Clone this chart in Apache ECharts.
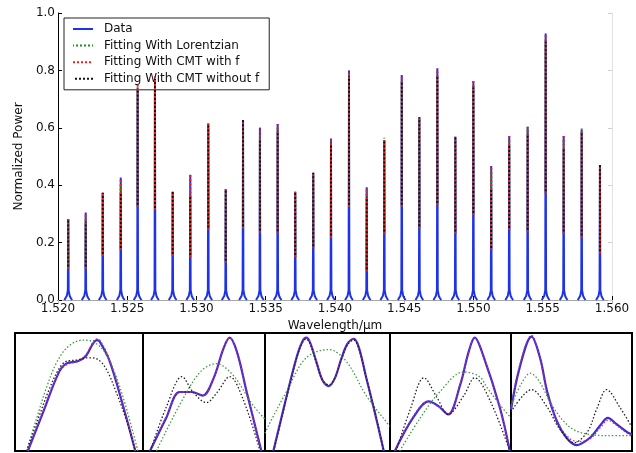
<!DOCTYPE html>
<html>
<head>
<meta charset="utf-8">
<script src="https://cdn.jsdelivr.net/npm/echarts@6/dist/echarts.min.js"></script>
<style>
html, body { margin: 0; padding: 0; background: #fff; }
#chart { width: 636px; height: 453px; }
</style>
</head>
<body>
<div id="chart"></div>
<script>
// ---- Transmission spectrum: one entry per resonance ----
const peakWavelengths = [1.52074, 1.52200, 1.52323, 1.52453, 1.52575, 1.52700, 1.52828, 1.52955,
  1.53085, 1.53211, 1.53336, 1.53458, 1.53586, 1.53713, 1.53843, 1.53971, 1.54101, 1.54229,
  1.54356, 1.54482, 1.54609, 1.54739, 1.54869, 1.54999, 1.55128, 1.55258, 1.55391, 1.55521,
  1.55651, 1.55781, 1.55913];
const dataPeaks = [0.282, 0.305, 0.374, 0.426, 0.75, 0.78, 0.377, 0.436, 0.615, 0.387, 0.627,
  0.600, 0.613, 0.377, 0.443, 0.563, 0.800, 0.393, 0.557, 0.784, 0.637, 0.807, 0.569, 0.763,
  0.467, 0.571, 0.604, 0.929, 0.571, 0.592, 0.470];
const lorentzPeaks = [0.28, 0.29, 0.37, 0.40, 0.74, 0.77, 0.37, 0.42, 0.60, 0.38, 0.61, 0.57,
  0.60, 0.37, 0.44, 0.55, 0.79, 0.38, 0.565, 0.77, 0.63, 0.79, 0.56, 0.75, 0.45, 0.56, 0.60,
  0.91, 0.56, 0.60, 0.46];
const cmtWithFPeaks = [0.282, 0.305, 0.374, 0.426, 0.75, 0.78, 0.377, 0.436, 0.615, 0.387, 0.627,
  0.600, 0.613, 0.377, 0.443, 0.563, 0.800, 0.393, 0.557, 0.784, 0.637, 0.807, 0.569, 0.763,
  0.467, 0.571, 0.604, 0.929, 0.571, 0.592, 0.470];
const cmtWithoutFPeaks = [0.282, 0.273, 0.374, 0.37, 0.74, 0.77, 0.377, 0.36, 0.615, 0.387, 0.627,
  0.555, 0.59, 0.377, 0.443, 0.54, 0.78, 0.36, 0.557, 0.76, 0.637, 0.78, 0.569, 0.74, 0.39,
  0.54, 0.58, 0.90, 0.53, 0.58, 0.47];
// lower edge of the fitting window around each resonance
const fitWindowLevels = [0.11, 0.11, 0.153, 0.174, 0.325, 0.314, 0.153, 0.15, 0.246, 0.13, 0.25,
  0.235, 0.233, 0.15, 0.18, 0.218, 0.325, 0.10, 0.232, 0.325, 0.25, 0.331, 0.232, 0.296, 0.174,
  0.244, 0.238, 0.372, 0.232, 0.218, 0.163];
// flared foot of a measured resonance: offset from centre (µm) and power level
const footOffsets = [0.00028, 0.00019, 0.0001, 0.000029];
const footLevels = [0, 0.006, 0.015, 0.034];

const xTickLabels = ['1.520', '1.525', '1.530', '1.535', '1.540', '1.545', '1.550', '1.555', '1.560'];
const yTickLabels = ['0.0', '0.2', '0.4', '0.6', '0.8', '1.0'];

// ---- Close-ups of individual resonances: [normalised x, normalised power] ----
const inset1Data = [[0.10,0],[0.22,0.33],[0.34,0.66],[0.40,0.74],[0.49,0.76],[0.55,0.80],[0.64,0.94],[0.66,0.93],[0.74,0.76],[0.85,0.36],[0.94,0]];
const inset1Lorentz = [[0.09,0],[0.17,0.28],[0.25,0.55],[0.33,0.76],[0.42,0.89],[0.53,0.94],[0.62,0.92],[0.70,0.84],[0.78,0.66],[0.86,0.40],[0.96,0]];
const inset1CmtF = [[0.10,0],[0.22,0.34],[0.34,0.66],[0.40,0.73],[0.49,0.76],[0.55,0.81],[0.64,0.95],[0.67,0.93],[0.74,0.77],[0.85,0.36],[0.94,0]];
const inset1CmtNoF = [[0.09,0],[0.18,0.27],[0.27,0.53],[0.34,0.69],[0.40,0.76],[0.48,0.77],[0.57,0.79],[0.64,0.78],[0.71,0.70],[0.79,0.50],[0.87,0.26],[0.94,0]];

const inset2Data = [[0.057,0],[0.19,0.28],[0.30,0.50],[0.40,0.50],[0.49,0.47],[0.58,0.62],[0.66,0.87],[0.71,0.96],[0.77,0.84],[0.85,0.50],[0.97,0]];
const inset2Lorentz = [[0.11,0],[0.30,0.39],[0.47,0.67],[0.60,0.74],[0.74,0.64],[0.90,0.39],[1.0,0.27]];
const inset2CmtF = [[0.057,0],[0.19,0.29],[0.30,0.50],[0.40,0.50],[0.49,0.47],[0.58,0.62],[0.66,0.87],[0.71,0.96],[0.77,0.84],[0.85,0.50],[0.97,0]];
const inset2CmtNoF = [[0.06,0],[0.19,0.37],[0.32,0.63],[0.41,0.50],[0.52,0.41],[0.61,0.50],[0.71,0.63],[0.82,0.44],[0.96,0]];

const inset3Data = [[0.067,0],[0.14,0.32],[0.20,0.58],[0.26,0.82],[0.30,0.93],[0.33,0.96],[0.36,0.92],[0.41,0.76],[0.46,0.60],[0.51,0.55],[0.56,0.62],[0.61,0.78],[0.66,0.91],[0.71,0.95],[0.75,0.88],[0.81,0.62],[0.88,0.32],[0.95,0]];
const inset3Lorentz = [[0,0.15],[0.03,0.22],[0.17,0.50],[0.33,0.79],[0.51,0.86],[0.65,0.76],[0.81,0.47],[0.99,0.22],[1.0,0.21]];
const inset3CmtF = [[0.067,0],[0.14,0.32],[0.20,0.58],[0.26,0.82],[0.30,0.93],[0.33,0.96],[0.36,0.92],[0.41,0.76],[0.46,0.60],[0.51,0.55],[0.56,0.62],[0.61,0.78],[0.66,0.91],[0.71,0.95],[0.75,0.88],[0.81,0.62],[0.88,0.32],[0.95,0]];
const inset3CmtNoF = [[0.07,0],[0.14,0.31],[0.20,0.57],[0.26,0.81],[0.30,0.92],[0.33,0.95],[0.36,0.91],[0.41,0.75],[0.46,0.60],[0.51,0.56],[0.56,0.62],[0.61,0.77],[0.66,0.90],[0.71,0.94],[0.75,0.87],[0.81,0.62],[0.88,0.33],[0.95,0]];

const inset4Data = [[0.04,0],[0.19,0.28],[0.32,0.42],[0.40,0.38],[0.48,0.31],[0.58,0.56],[0.65,0.84],[0.70,0.96],[0.77,0.81],[0.91,0.36],[0.99,0]];
const inset4Lorentz = [[0.08,0],[0.25,0.28],[0.41,0.50],[0.61,0.67],[0.74,0.63],[0.80,0.54],[0.91,0.39],[1.0,0.28]];
const inset4CmtF = [[0.04,0],[0.19,0.29],[0.32,0.42],[0.40,0.38],[0.48,0.31],[0.58,0.56],[0.65,0.84],[0.70,0.96],[0.77,0.81],[0.91,0.36],[0.99,0]];
const inset4CmtNoF = [[0.05,0],[0.17,0.36],[0.28,0.62],[0.39,0.45],[0.48,0.31],[0.61,0.47],[0.70,0.62],[0.83,0.42],[0.99,0]];

const inset5Data = [[0,0.35],[0.07,0.70],[0.17,0.97],[0.24,0.79],[0.30,0.50],[0.38,0.25],[0.46,0.11],[0.54,0.05],[0.65,0.11],[0.74,0.22],[0.80,0.28],[0.87,0.23],[0.96,0.16],[1.0,0.14]];
const inset5Lorentz = [[0,0.38],[0.08,0.56],[0.16,0.66],[0.24,0.58],[0.32,0.42],[0.42,0.27],[0.52,0.18],[0.65,0.14],[0.80,0.13],[1.0,0.13]];
const inset5CmtF = [[0,0.36],[0.07,0.72],[0.17,0.98],[0.24,0.78],[0.30,0.48],[0.38,0.26],[0.46,0.13],[0.55,0.08],[0.65,0.10],[0.74,0.20],[0.80,0.26],[0.87,0.22],[0.96,0.15],[1.0,0.13]];
const inset5CmtNoF = [[0,0.33],[0.17,0.52],[0.30,0.37],[0.40,0.19],[0.52,0.07],[0.63,0.16],[0.71,0.36],[0.79,0.52],[0.90,0.37],[1.0,0.20]];

// ---- Build polylines ----
const GAP = '-';
const measuredLine = [];
peakWavelengths.forEach((c, i) => {
  for (let k = 0; k < footOffsets.length; k++) measuredLine.push([c - footOffsets[k], footLevels[k]]);
  measuredLine.push([c, dataPeaks[i]]);
  for (let k = footOffsets.length - 1; k >= 0; k--) measuredLine.push([c + footOffsets[k], footLevels[k]]);
  measuredLine.push([c + 0.0004, GAP]);
});
function fitLine(tops) {
  const pts = [];
  peakWavelengths.forEach((c, i) => {
    pts.push([c, fitWindowLevels[i]], [c, tops[i]], [c + 0.0004, GAP]);
  });
  return pts;
}

const FONT = 'DejaVu Sans';
const BLUE = '#1f33e6';
const GREEN = '#1f8f1f';
const RED = '#f01c1c';
const BLACK = '#111111';
const NAMES = ['Data', 'Fitting With Lorentzian', 'Fitting With CMT with f', 'Fitting With CMT without f'];

const insetRects = [
  { left: 15, width: 128 },
  { left: 143, width: 122 },
  { left: 265, width: 125 },
  { left: 390, width: 121 },
  { left: 511, width: 121 }
];
const insetSets = [
  [inset1Data, inset1Lorentz, inset1CmtF, inset1CmtNoF],
  [inset2Data, inset2Lorentz, inset2CmtF, inset2CmtNoF],
  [inset3Data, inset3Lorentz, inset3CmtF, inset3CmtNoF],
  [inset4Data, inset4Lorentz, inset4CmtF, inset4CmtNoF],
  [inset5Data, inset5Lorentz, inset5CmtF, inset5CmtNoF]
];

const grids = [{ left: 58, top: 13, width: 554, height: 287, containLabel: false }];
const xAxes = [
  {
    gridIndex: 0, type: 'value', min: 1.52, max: 1.56, interval: 0.005,
    axisLine: { lineStyle: { color: '#000', width: 1 } },
    axisTick: { inside: true, length: 4, lineStyle: { color: '#000' } },
    axisLabel: { margin: 3, color: '#111', fontFamily: FONT, fontSize: 12,
      formatter: (v, idx) => xTickLabels[idx] },
    splitLine: { show: false },
    name: 'Wavelength/\u00b5m', nameLocation: 'middle', nameGap: 17,
    nameTextStyle: { color: '#111', fontFamily: FONT, fontSize: 12 }
  },
  {
    gridIndex: 0, type: 'value', position: 'top', min: 1.52, max: 1.56, interval: 0.005,
    axisLine: { lineStyle: { color: '#a8a8a8', width: 1 } },
    axisTick: { inside: true, length: 4, lineStyle: { color: '#bbb' } },
    axisLabel: { show: false }, splitLine: { show: false }
  }
];
const yAxes = [
  {
    gridIndex: 0, type: 'value', min: 0, max: 1, interval: 0.2,
    axisLine: { lineStyle: { color: '#000', width: 1 } },
    axisTick: { inside: true, length: 4, lineStyle: { color: '#000' } },
    axisLabel: { margin: 3, color: '#111', fontFamily: FONT, fontSize: 12,
      formatter: (v, idx) => yTickLabels[idx] },
    splitLine: { show: false },
    name: 'Normalized Power', nameLocation: 'middle', nameGap: 22,
    nameTextStyle: { color: '#111', fontFamily: FONT, fontSize: 12 }
  },
  {
    gridIndex: 0, type: 'value', position: 'right', min: 0, max: 1, interval: 0.2,
    axisLine: { lineStyle: { color: '#e2e2e2', width: 1 } },
    axisTick: { inside: true, length: 4, lineStyle: { color: '#d0d0d0' } },
    axisLabel: { show: false }, splitLine: { show: false }
  }
];

const base = { type: 'line', symbol: 'none', showSymbol: false, silent: true, animation: false };
const series = [
  Object.assign({}, base, { name: NAMES[0], xAxisIndex: 0, yAxisIndex: 0, data: measuredLine,
    lineStyle: { color: BLUE, width: 2 }, itemStyle: { color: BLUE }, z: 2 }),
  Object.assign({}, base, { name: NAMES[1], xAxisIndex: 0, yAxisIndex: 0, data: fitLine(lorentzPeaks),
    lineStyle: { color: GREEN, width: 2, type: [2, 2], dashOffset: 1 }, itemStyle: { color: GREEN }, z: 3 }),
  Object.assign({}, base, { name: NAMES[2], xAxisIndex: 0, yAxisIndex: 0, data: fitLine(cmtWithFPeaks),
    lineStyle: { color: RED, width: 2, type: [2, 2], dashOffset: 0 }, itemStyle: { color: RED }, z: 4 }),
  Object.assign({}, base, { name: NAMES[3], xAxisIndex: 0, yAxisIndex: 0, data: fitLine(cmtWithoutFPeaks),
    lineStyle: { color: BLACK, width: 2, type: [2, 2], dashOffset: 2 }, itemStyle: { color: BLACK }, z: 5 })
];

insetRects.forEach((r, k) => {
  const gi = k + 1;
  grids.push({ left: r.left, width: r.width, top: 333, height: 118, show: true,
    backgroundColor: '#fff', borderColor: '#000', borderWidth: 2 });
  xAxes.push({ gridIndex: gi, type: 'value', min: 0, max: 1, show: false });
  yAxes.push({ gridIndex: gi, type: 'value', min: 0, max: 1, show: false });
  const set = insetSets[k];
  series.push(
    Object.assign({}, base, { name: NAMES[0], xAxisIndex: gi + 1, yAxisIndex: gi + 1, data: set[0], smooth: 0.35,
      lineStyle: { color: '#3a2bd6', width: 2.2 } }),
    Object.assign({}, base, { name: NAMES[1], xAxisIndex: gi + 1, yAxisIndex: gi + 1, data: set[1], smooth: 0.35,
      lineStyle: { color: '#3f9a3f', width: 1.3, type: [1.5, 2] } }),
    Object.assign({}, base, { name: NAMES[2], xAxisIndex: gi + 1, yAxisIndex: gi + 1, data: set[2], smooth: 0.35,
      lineStyle: { color: '#c0307a', width: 1.3, type: [1.5, 2] } }),
    Object.assign({}, base, { name: NAMES[3], xAxisIndex: gi + 1, yAxisIndex: gi + 1, data: set[3], smooth: 0.35,
      lineStyle: { color: '#222', width: 1.3, type: [1.5, 2] } })
  );
});

const chart = echarts.init(document.getElementById('chart'), null, { renderer: 'canvas' });
chart.setOption({
  backgroundColor: '#fff',
  animation: false,
  textStyle: { fontFamily: FONT },
  grid: grids,
  xAxis: xAxes,
  yAxis: yAxes,
  legend: {
    data: NAMES, orient: 'vertical', left: 64, top: 18,
    padding: [5, 10, 5, 8], itemGap: 4.6, itemWidth: 20, itemHeight: 14,
    backgroundColor: '#fff', borderColor: '#222', borderWidth: 1, borderRadius: 0,
    itemStyle: { opacity: 0 },
    textStyle: { color: '#111', fontFamily: FONT, fontSize: 12, padding: [0, 0, 0, 6] },
    selectedMode: false
  },
  series: series
});
</script>
</body>
</html>
